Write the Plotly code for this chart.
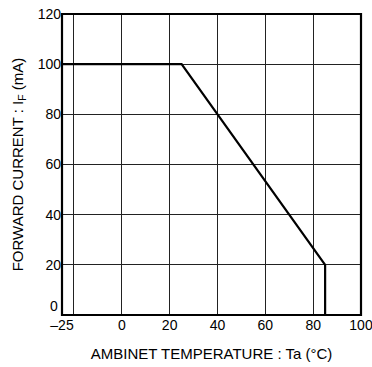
import plotly.graph_objects as go

# Data
temp = [-25, 25, 85, 85]
current = [100, 100, 20, 0]

x_tickvals = [-25, 0, 20, 40, 60, 80, 100]
x_ticktext = ["\u201325", "0", "20", "40", "60", "80", "100"]
x_minor_grid = [-20]
y_tickvals = [20, 40, 60, 80, 100, 120]
y_ticktext = ["20", "40", "60", "80", "100", "120"]

FONT = "Liberation Sans, Arial, Helvetica, sans-serif"

fig = go.Figure()
fig.add_trace(go.Scatter(x=temp, y=current, mode="lines",
                         line=dict(color="black", width=2.2),
                         hoverinfo="skip", showlegend=False))

fig.update_layout(
    width=372, height=367,
    margin=dict(l=62, r=11, t=14, b=52),
    paper_bgcolor="white", plot_bgcolor="white",
    font=dict(family=FONT, size=14, color="black"),
    xaxis=dict(range=[-25, 100], tickvals=x_tickvals, ticktext=x_ticktext,
               minor=dict(tickvals=x_minor_grid, showgrid=True, gridcolor="#222",
                          gridwidth=1, ticks=""),
               showgrid=True, gridcolor="#222", gridwidth=1,
               showline=False, zeroline=False, ticks="", automargin=False,
               ticklabeloverflow="allow",
               title=dict(text="AMBINET TEMPERATURE : Ta (\u00b0C)", standoff=16,
                          font=dict(size=15))),
    yaxis=dict(range=[0, 120], tickvals=y_tickvals, ticktext=y_ticktext,
               showgrid=True, gridcolor="#222", gridwidth=1,
               showline=False, zeroline=False, ticks="", automargin=False,
               ticklabeloverflow="allow",
               title=dict(text="FORWARD CURRENT : I<sub>F</sub> (mA)", standoff=10,
                          font=dict(size=15))),
    shapes=[dict(type="rect", xref="paper", yref="paper", x0=0, x1=1, y0=0, y1=1,
                 line=dict(color="black", width=2.2), layer="above")],
    annotations=[dict(text="0", xref="paper", yref="y", x=0, y=0,
                      xanchor="right", yanchor="middle", xshift=-2, yshift=9,
                      showarrow=False, font=dict(family=FONT, size=14))],
)

fig.write_html("out.html")
